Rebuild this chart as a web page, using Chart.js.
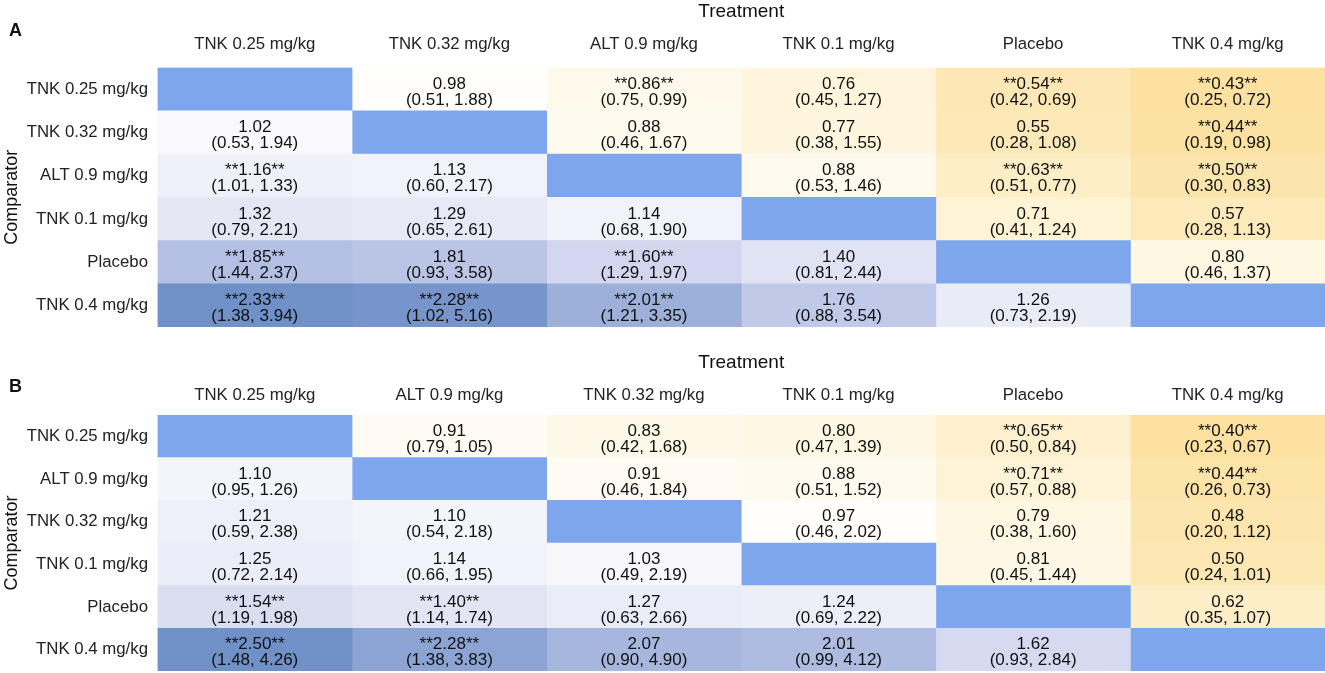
<!DOCTYPE html>
<html>
<head>
<meta charset="utf-8">
<script src="https://cdn.jsdelivr.net/npm/chart.js@4.4.1/dist/chart.umd.min.js"></script>
<style>
  html, body { margin: 0; padding: 0; background: #fff; }
  body { width: 1325px; height: 673px; position: relative; overflow: hidden;
         font-family: "Liberation Sans", Arial, sans-serif; }
  .panel { position: absolute; left: 0; width: 1325px; }
  #panelA { top: 0; height: 336px; }
  #panelB { top: 336px; height: 337px; }
  .tag { position: absolute; left: 9px; font-weight: bold; font-size: 18px; color: #111; }
</style>
</head>
<body>
<div class="panel" id="panelA"><canvas id="chartA"></canvas></div>
<div class="panel" id="panelB"><canvas id="chartB"></canvas></div>
<div class="tag" style="top:20px">A</div>
<div class="tag" style="top:376px">B</div>
<script>
// ===========================
// DATA (rows = comparator, columns = treatment)
// ===========================

const armsA = ['TNK 0.25 mg/kg', 'TNK 0.32 mg/kg', 'ALT 0.9 mg/kg', 'TNK 0.1 mg/kg', 'Placebo', 'TNK 0.4 mg/kg'];
const ratioA = [
    [null, 0.98, 0.86, 0.76, 0.54, 0.43],
    [1.02, null, 0.88, 0.77, 0.55, 0.44],
    [1.16, 1.13, null, 0.88, 0.63, 0.50],
    [1.32, 1.29, 1.14, null, 0.71, 0.57],
    [1.85, 1.81, 1.60, 1.40, null, 0.80],
    [2.33, 2.28, 2.01, 1.76, 1.26, null]
];
const lowA = [
    [null, 0.51, 0.75, 0.45, 0.42, 0.25],
    [0.53, null, 0.46, 0.38, 0.28, 0.19],
    [1.01, 0.60, null, 0.53, 0.51, 0.30],
    [0.79, 0.65, 0.68, null, 0.41, 0.28],
    [1.44, 0.93, 1.29, 0.81, null, 0.46],
    [1.38, 1.02, 1.21, 0.88, 0.73, null]
];
const highA = [
    [null, 1.88, 0.99, 1.27, 0.69, 0.72],
    [1.94, null, 1.67, 1.55, 1.08, 0.98],
    [1.33, 2.17, null, 1.46, 0.77, 0.83],
    [2.21, 2.61, 1.90, null, 1.24, 1.13],
    [2.37, 3.58, 1.97, 2.44, null, 1.37],
    [3.94, 5.16, 3.35, 3.54, 2.19, null]
];

const armsB = ['TNK 0.25 mg/kg', 'ALT 0.9 mg/kg', 'TNK 0.32 mg/kg', 'TNK 0.1 mg/kg', 'Placebo', 'TNK 0.4 mg/kg'];
const ratioB = [
    [null, 0.91, 0.83, 0.80, 0.65, 0.40],
    [1.10, null, 0.91, 0.88, 0.71, 0.44],
    [1.21, 1.10, null, 0.97, 0.79, 0.48],
    [1.25, 1.14, 1.03, null, 0.81, 0.50],
    [1.54, 1.40, 1.27, 1.24, null, 0.62],
    [2.50, 2.28, 2.07, 2.01, 1.62, null]
];
const lowB = [
    [null, 0.79, 0.42, 0.47, 0.50, 0.23],
    [0.95, null, 0.46, 0.51, 0.57, 0.26],
    [0.59, 0.54, null, 0.46, 0.38, 0.20],
    [0.72, 0.66, 0.49, null, 0.45, 0.24],
    [1.19, 1.14, 0.63, 0.69, null, 0.35],
    [1.48, 1.38, 0.90, 0.99, 0.93, null]
];
const highB = [
    [null, 1.05, 1.68, 1.39, 0.84, 0.67],
    [1.26, null, 1.84, 1.52, 0.88, 0.73],
    [2.38, 2.18, null, 2.02, 1.60, 1.12],
    [2.14, 1.95, 2.19, null, 1.44, 1.01],
    [1.98, 1.74, 2.66, 2.22, null, 1.07],
    [4.26, 3.83, 4.90, 4.12, 2.84, null]
];

// ===========================
// COLOURS
// ===========================

const FONT = '"Liberation Sans", Arial, sans-serif';
const DIAG = '#7ea6ec';
const blueStops = [[250, 250, 253], [206, 211, 237], [112, 144, 200]];
const yellowStops = [[255, 255, 255], [254, 243, 214], [252, 225, 160]];

function mix3(stops, t) {
    t = Math.max(0, Math.min(1, t));
    const seg = t < 0.5 ? 0 : 1;
    const f = seg === 0 ? t / 0.5 : (t - 0.5) / 0.5;
    const a = stops[seg], b = stops[seg + 1];
    return 'rgb(' + a.map((c, k) => Math.round(c + (b[k] - c) * f)).join(',') + ')';
}

function cellColour(v, maxV, minV) {
    if (v === null) return DIAG;
    if (v >= 1) return mix3(blueStops, (v - 1) / (maxV - 1));
    return mix3(yellowStops, (1 - v) / (1 - minV));
}

// ===========================
// CELL TEXT PLUGIN
// ===========================

const cellText = {
    id: 'cellText',
    afterDatasetsDraw(chart, args, opts) {
        const ctx = chart.ctx;
        ctx.save();
        ctx.fillStyle = '#111';
        ctx.textAlign = 'center';
        ctx.textBaseline = 'middle';
        ctx.font = '17px ' + FONT;
        chart.data.datasets.forEach((ds, j) => {
            const meta = chart.getDatasetMeta(j);
            meta.data.forEach((bar, i) => {
                const v = opts.ratio[i][j];
                if (v === null) return;
                const lo = opts.low[i][j], hi = opts.high[i][j];
                const sig = lo > 1 || hi < 1;
                const cx = (bar.x + bar.base) / 2;
                const s = v.toFixed(2);
                ctx.fillText(sig ? '**' + s + '**' : s, cx, bar.y - 5);
                ctx.fillText('(' + lo.toFixed(2) + ', ' + hi.toFixed(2) + ')', cx, bar.y + 11);
            });
        });
        ctx.restore();
    }
};

// ===========================
// HEATMAP BUILDER
// ===========================

function buildHeatmap(canvasId, arms, ratio, low, high, geo) {
    const flat = ratio.flat().filter(v => v !== null);
    const maxV = Math.max(...flat), minV = Math.min(...flat);

    const datasets = arms.map((col, j) => ({
        label: col,
        data: arms.map(() => 1),
        backgroundColor: arms.map((row, i) => cellColour(ratio[i][j], maxV, minV)),
        borderWidth: 0,
        barPercentage: 1,
        categoryPercentage: 1
    }));

    return new Chart(document.getElementById(canvasId), {
        type: 'bar',
        data: { labels: arms, datasets: datasets },
        plugins: [cellText],
        options: {
            indexAxis: 'y',
            responsive: true,
            maintainAspectRatio: false,
            animation: false,
            layout: { padding: { top: geo.padTop, bottom: geo.padBottom, left: 0, right: 0 } },
            plugins: {
                legend: { display: false },
                tooltip: { enabled: false },
                cellText: { ratio: ratio, low: low, high: high }
            },
            scales: {
                x: {
                    type: 'linear',
                    position: 'top',
                    stacked: true,
                    min: 0,
                    max: arms.length,
                    grid: { display: false, drawTicks: false },
                    border: { display: false },
                    afterBuildTicks: (scale) => {
                        scale.ticks = arms.map((a, k) => ({ value: k + 0.5 }));
                    },
                    afterFit: (scale) => {
                        scale.height = geo.headH;
                        scale.paddingLeft = 0;
                        scale.paddingRight = 0;
                    },
                    ticks: {
                        autoSkip: false,
                        maxRotation: 0,
                        padding: geo.tickPad,
                        color: '#222',
                        font: { family: FONT, size: 16.8 },
                        callback: (value, index) => arms[index]
                    },
                    title: {
                        display: true,
                        text: 'Treatment',
                        color: '#111',
                        padding: { top: 0, bottom: 0 },
                        font: { family: FONT, size: 19 }
                    }
                },
                y: {
                    stacked: true,
                    grid: { display: false, drawTicks: false },
                    border: { display: false },
                    afterFit: (scale) => {
                        scale.width = 157.5;
                        scale.paddingTop = 0;
                        scale.paddingBottom = 0;
                    },
                    ticks: {
                        padding: 9.5,
                        color: '#222',
                        font: { family: FONT, size: 16.8 }
                    },
                    title: {
                        display: true,
                        text: 'Comparator',
                        color: '#111',
                        padding: { top: 1, bottom: 0 },
                        font: { family: FONT, size: 18 }
                    }
                }
            }
        }
    });
}

buildHeatmap('chartA', armsA, ratioA, lowA, highA, { padTop: 0, padBottom: 9, headH: 67.5, tickPad: 13.5 });
buildHeatmap('chartB', armsB, ratioB, lowB, highB, { padTop: 15, padBottom: 2, headH: 64, tickPad: 10 });
</script>
</body>
</html>
